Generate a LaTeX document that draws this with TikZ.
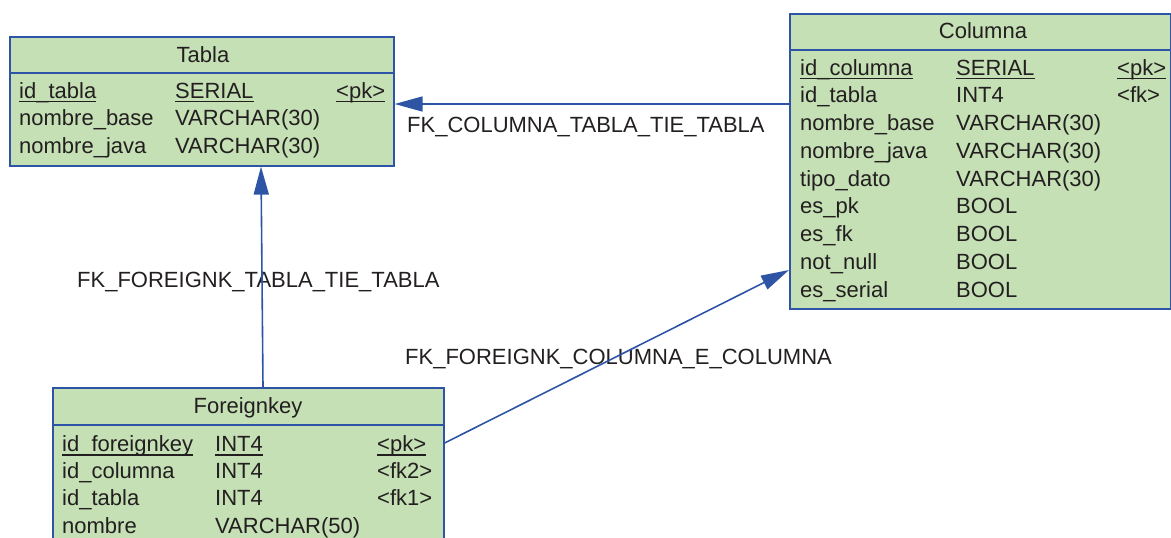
\documentclass[tikz,border=0pt]{standalone}
\usepackage{fontspec}
\setmainfont{Liberation Sans}
\usetikzlibrary{arrows.meta,calc}
\definecolor{ermblue}{RGB}{46,84,166}
\definecolor{ermfill}{RGB}{197,224,181}
\definecolor{ermtext}{RGB}{35,31,32}
\begin{document}
\begin{tikzpicture}[x=1pt,y=-1pt,
  tbox/.style={draw=ermblue,fill=ermfill,line width=1.6pt,rectangle,inner sep=0pt,anchor=north west},
  sep/.style={draw=ermblue,line width=1.6pt},
  cell/.style={font=\fontsize{22}{26}\selectfont,text=ermtext,inner sep=0pt,anchor=base west},
  head/.style={cell,anchor=base},
  uline/.style={draw=ermtext,line width=1.2pt},
  fkline/.style={draw=ermblue,line width=1.6pt,-{Triangle[length=28pt,width=15pt]}},
  lbl/.style={cell}]
\useasboundingbox (0,0) rectangle (1171,538);

% ---- boxes
\node[tbox,minimum width=384pt,minimum height=129pt] (tabla) at (9,36) {};
\draw[sep] ([yshift=-37pt]tabla.north west) -- ([yshift=-37pt]tabla.north east);
\node[tbox,minimum width=381pt,minimum height=295pt] (columna) at (789,13) {};
\draw[sep] ([yshift=-37pt]columna.north west) -- ([yshift=-37pt]columna.north east);
\node[tbox,minimum width=391pt,minimum height=180pt] (foreign) at (52,387) {};
\draw[sep] ([yshift=-38pt]foreign.north west) -- ([yshift=-38pt]foreign.north east);

% ---- Tabla
\node[head] (th) at (203,62) {Tabla};
\node[cell] (t1a) at (19,98) {id\_tabla};
\node[cell] (t1b) at (175,98) {SERIAL};
\node[cell] (t1c) at (336,98) {<pk>};
\node[cell] (t2a) at (19,125.7) {nombre\_base};
\node[cell] (t2b) at (175,125.7) {VARCHAR(30)};
\node[cell] (t3a) at (19,153.4) {nombre\_java};
\node[cell] (t3b) at (175,153.4) {VARCHAR(30)};

% ---- Columna
\node[head] (ch) at (983,38) {Columna};
\node[cell] (c1a) at (800,75) {id\_columna};
\node[cell] (c1b) at (956,75) {SERIAL};
\node[cell] (c1c) at (1117,75) {<pk>};
\node[cell] (c2a) at (800,102.75) {id\_tabla};
\node[cell] (c2b) at (956,102.75) {INT4};
\node[cell] (c2c) at (1117,102.75) {<fk>};
\node[cell] (c3a) at (800,130.5) {nombre\_base};
\node[cell] (c3b) at (956,130.5) {VARCHAR(30)};
\node[cell] (c4a) at (800,158.25) {nombre\_java};
\node[cell] (c4b) at (956,158.25) {VARCHAR(30)};
\node[cell] (c5a) at (800,186) {tipo\_dato};
\node[cell] (c5b) at (956,186) {VARCHAR(30)};
\node[cell] (c6a) at (800,213.75) {es\_pk};
\node[cell] (c6b) at (956,213.75) {BOOL};
\node[cell] (c7a) at (800,241.5) {es\_fk};
\node[cell] (c7b) at (956,241.5) {BOOL};
\node[cell] (c8a) at (800,269.25) {not\_null};
\node[cell] (c8b) at (956,269.25) {BOOL};
\node[cell] (c9a) at (800,297) {es\_serial};
\node[cell] (c9b) at (956,297) {BOOL};

% ---- Foreignkey
\node[head] (fh) at (248,413) {Foreignkey};
\node[cell] (f1a) at (62,451.5) {id\_foreignkey};
\node[cell] (f1b) at (215,451.5) {INT4};
\node[cell] (f1c) at (377,451.5) {<pk>};
\node[cell] (f2a) at (62,478.7) {id\_columna};
\node[cell] (f2b) at (215,478.7) {INT4};
\node[cell] (f2c) at (377,478.7) {<fk2>};
\node[cell] (f3a) at (62,505.9) {id\_tabla};
\node[cell] (f3b) at (215,505.9) {INT4};
\node[cell] (f3c) at (377,505.9) {<fk1>};
\node[cell] (f4a) at (62,533.1) {nombre};
\node[cell] (f4b) at (215,533.1) {VARCHAR(50)};

% ---- primary key underlines
\foreach \n in {t1a,t1b,t1c,c1a,c1b,c1c,f1a,f1b,f1c}
  \draw[uline] ([yshift=-3.5pt]\n.base west) -- ([yshift=-3.5pt]\n.base east);

% ---- connector labels
\node[lbl] (l1) at (407,132) {FK\_COLUMNA\_TABLA\_TIE\_TABLA};
\node[lbl] (l2) at (77,287) {FK\_FOREIGNK\_TABLA\_TIE\_TABLA};
\node[lbl] (l3) at (405,364) {FK\_FOREIGNK\_COLUMNA\_E\_COLUMNA};

% ---- connectors
\coordinate (c1s) at ([yshift=-91pt]columna.north west);
\draw[fkline] (c1s) -- (tabla.east |- c1s);
\draw[fkline] ([xshift=211pt]foreign.north west) -- ([xshift=252pt]tabla.south west);
\draw[fkline] ([yshift=-56pt]foreign.north east) -- ([yshift=-257pt]columna.north west);
\end{tikzpicture}
\end{document}
